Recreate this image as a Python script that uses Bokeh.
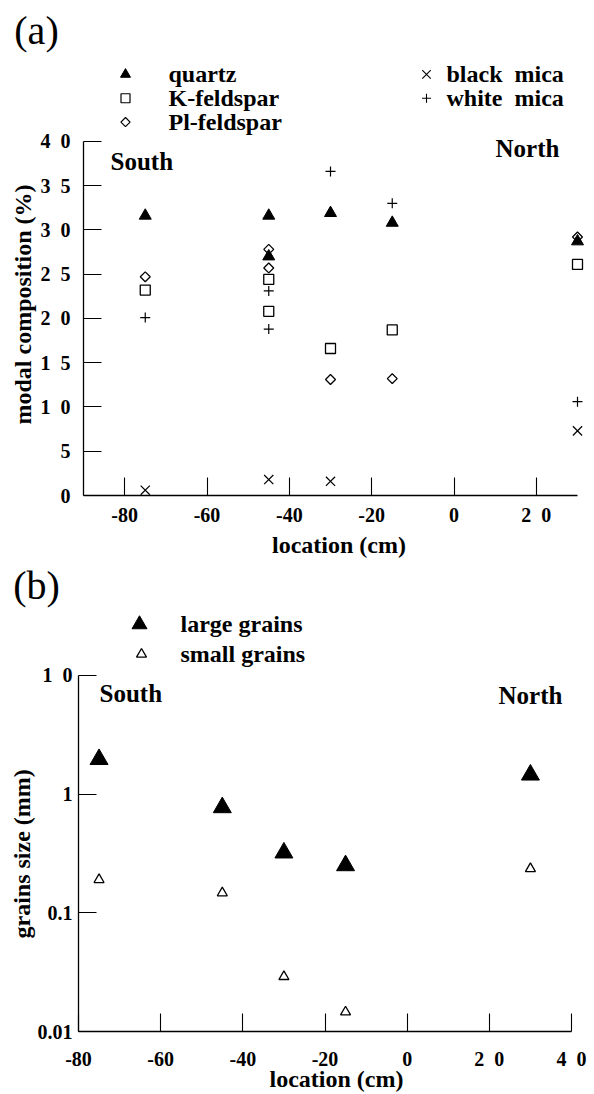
import numpy as np
from bokeh.plotting import figure
from bokeh.models import Range1d, FixedTicker, Label, Title
from bokeh.layouts import column
from bokeh.embed import file_html
from bokeh.resources import INLINE

# ---------------- data: panel (a) modal composition (%) ----------------
loc_quartz = [-75, -45, -45, -30, -15, 30]
quartz = [31.6, 31.6, 27.0, 31.9, 30.8, 28.7]
loc_kfeld = [-75, -45, -45, -30, -15, 30]
kfeld = [23.2, 24.4, 20.8, 16.6, 18.7, 26.1]
loc_plfeld = [-75, -45, -45, -30, -15, 30]
plfeld = [24.7, 27.8, 25.7, 13.1, 13.2, 29.2]
loc_bmica = [-75, -45, -30, 30]
bmica = [0.6, 1.8, 1.6, 7.3]
loc_wmica = [-75, -45, -45, -30, -15, 30]
wmica = [20.1, 23.1, 18.8, 36.6, 33.0, 10.6]

# ---------------- data: panel (b) grain size (mm) ----------------
loc_grains = [-75, -45, -30, -15, 30]
large_grains = [1.96, 0.77, 0.32, 0.25, 1.45]
small_grains = [0.19, 0.147, 0.029, 0.0146, 0.235]

# ---------------- ticks ----------------
a_xticks = [-80, -60, -40, -20, 0, 20]
a_xlabels = ["-80", "-60", "-40", "-20", "0", "2\u20020"]
a_yticks = [0, 5, 10, 15, 20, 25, 30, 35, 40]
a_ylabels = ["0", "5", "1\u20020", "1\u20025", "2\u20020", "2\u20025", "3\u20020", "3\u20025", "4\u20020"]
b_xticks = [-80, -60, -40, -20, 0, 20, 40]
b_xlabels = ["-80", "-60", "-40", "-20", "0", "2\u20020", "4\u20020"]
b_yticks = [0.01, 0.1, 1, 10]
b_ylabels = ["0.01", "0.1", "1", "1\u20020"]

FONT = "Liberation Serif"
W = 594

# page layout (px from top of page)
HDR_A = 58            # header with "(a)"
PA_TOP, PA_BOT = 58, 560
HDR_B_TOP, HDR_B_BOT = 560, 608
PB_TOP, PB_BOT = 608, 1094

# ================= panel (a) =================
A_L, A_FB = 83, 498                     # frame left, frame bottom (page px)
A_PXX = 494 / 120.0                     # px per cm
A_PXU = 8.915                           # px per % unit
A_XEND = -90 + (W - A_L) / A_PXX
A_YTOP = (A_FB - PA_TOP) / A_PXU


def ax(px):
    return -90 + (px - A_L) / A_PXX


def ay(py):
    return (A_FB - py) / A_PXU


pa = figure(width=W, height=PA_BOT - PA_TOP, output_backend="svg",
            toolbar_location=None, title=None, frame_align=False,
            x_range=Range1d(-90, A_XEND), y_range=Range1d(0, A_YTOP),
            min_border_left=A_L, min_border_right=0,
            min_border_top=0, min_border_bottom=PA_BOT - A_FB)

# ================= panel (b) =================
B_L, B_FB = 78, 1033
B_PXX = 493 / 120.0
B_DEC = 119.3                           # px per decade
B_XEND = -80 + (W - B_L) / B_PXX
B_YTOP = 10 ** (-2 + (B_FB - PB_TOP) / B_DEC)


def bx(px):
    return -80 + (px - B_L) / B_PXX


def by(py):
    return 10 ** (-2 + (B_FB - py) / B_DEC)


pb = figure(width=W, height=PB_BOT - PB_TOP, output_backend="svg",
            toolbar_location=None, title=None, y_axis_type="log",
            frame_align=False,
            x_range=Range1d(-80, B_XEND), y_range=Range1d(0.01, B_YTOP),
            min_border_left=B_L, min_border_right=0,
            min_border_top=0, min_border_bottom=PB_BOT - B_FB)


def style_axes(p, xticks, xlabels, xbounds, yticks, ylabels, ybounds, xstand, ystand):
    p.grid.visible = False
    p.outline_line_color = None
    p.xaxis.ticker = FixedTicker(ticks=xticks)
    p.xaxis.major_label_overrides = dict(zip(xticks, xlabels))
    p.xaxis.bounds = xbounds
    p.yaxis.ticker = FixedTicker(ticks=yticks)
    p.yaxis.major_label_overrides = dict(zip(yticks, ylabels))
    p.yaxis.bounds = ybounds
    for a in (p.xaxis, p.yaxis):
        a.major_tick_in = 18
        a.major_tick_out = 0
        a.minor_tick_line_color = None
        a.axis_line_width = 1.3
        a.axis_line_color = "black"
        a.major_tick_line_color = "black"
        a.major_tick_line_width = 1.1
        a.major_label_text_font = FONT
        a.major_label_text_font_style = "bold"
        a.major_label_text_font_size = "20px"
        a.major_label_text_color = "black"
    p.xaxis.major_label_standoff = xstand
    p.yaxis.major_label_standoff = ystand
    p.xaxis.axis_label = "location (cm)"
    p.xaxis.axis_label_text_font = FONT
    p.xaxis.axis_label_text_font_style = "bold"
    p.xaxis.axis_label_text_font_size = "24px"
    p.xaxis.axis_label_text_color = "black"


style_axes(pa, a_xticks, a_xlabels, (-90, 30), a_yticks, a_ylabels, (0, 40), 8, 13)
style_axes(pb, b_xticks, b_xlabels, (-80, 40), b_yticks, b_ylabels, (0.01, 10), 16, 6)
pa.xaxis.axis_label_standoff = 3
pb.xaxis.axis_label_standoff = -7


def side_title(p, text, offset, standoff):
    # align="left" on the left side starts the text 'offset' px above the frame bottom
    p.add_layout(Title(text=text, align="left", offset=offset,
                       standoff=standoff, text_font=FONT,
                       text_font_style="bold", text_font_size="24px",
                       text_color="black"), "left")


side_title(pa, "modal composition (%)", A_FB - 427, 4)
side_title(pb, "grains size (mm)", B_FB - 940, 0)


def label(p, x, y, text, size, align="left", bold=True):
    p.add_layout(Label(x=x, y=y, text=text, text_font=FONT,
                       text_font_style="bold" if bold else "normal",
                       text_font_size=f"{size}px", text_align=align,
                       text_baseline="middle", text_color="black"))


# ---------- panel (a) data ----------
pa.scatter(loc_quartz, quartz, marker="triangle", size=12,
           fill_color="black", line_color="black")
pa.scatter(loc_kfeld, kfeld, marker="square", size=10,
           fill_color=None, line_color="black", line_width=1.3)
pa.scatter(loc_plfeld, plfeld, marker="square", angle=np.pi / 4, size=7,
           fill_color=None, line_color="black", line_width=1.3)
pa.scatter(loc_bmica, bmica, marker="x", size=13,
           line_color="black", line_width=1.2)
pa.scatter(loc_wmica, wmica, marker="cross", size=10,
           line_color="black", line_width=1.2)

# ---------- panel (a) legend ----------
pa.scatter([ax(125)], [ay(74)], marker="triangle", size=10,
           fill_color="black", line_color="black")
pa.scatter([ax(125)], [ay(98)], marker="square", size=9,
           fill_color=None, line_color="black", line_width=1.2)
pa.scatter([ax(125)], [ay(122)], marker="square", angle=np.pi / 4, size=6.5,
           fill_color=None, line_color="black", line_width=1.2)
pa.scatter([ax(426)], [ay(74)], marker="x", size=12,
           line_color="black", line_width=1.1)
pa.scatter([ax(426)], [ay(98)], marker="cross", size=9,
           line_color="black", line_width=1.1)
label(pa, ax(168), ay(74), "quartz", 24)
label(pa, ax(168), ay(98), "K-feldspar", 24)
label(pa, ax(168), ay(122), "Pl-feldspar", 24)
label(pa, ax(446), ay(74), "black\u2002mica", 24)
label(pa, ax(446), ay(98), "white\u2002mica", 24)

label(pa, ax(110), ay(162), "South", 25)
label(pa, ax(527), ay(149), "North", 25, align="center")

# ---------- panel (b) data ----------
pb.scatter(loc_grains, large_grains, marker="triangle", size=18,
           fill_color="black", line_color="black")
pb.scatter(loc_grains, small_grains, marker="triangle", size=10,
           fill_color=None, line_color="black", line_width=1.3)

# ---------- panel (b) legend ----------
pb.scatter([bx(139)], [by(624)], marker="triangle", size=15,
           fill_color="black", line_color="black")
pb.scatter([bx(141)], [by(654)], marker="triangle", size=10,
           fill_color=None, line_color="black", line_width=1.3)
label(pb, bx(180), by(624), "large grains", 24)
label(pb, bx(180), by(654), "small grains", 24)

label(pb, bx(99), by(693), "South", 25)
label(pb, bx(530), by(695), "North", 25, align="center")


# ---------- panel headers "(a)" / "(b)" ----------
def header(h, text, cy):
    p = figure(width=W, height=h, output_backend="svg", toolbar_location=None,
               title=None, frame_align=False,
               x_range=Range1d(0, W), y_range=Range1d(h, 0),
               x_axis_location=None, y_axis_location=None,
               min_border_left=0, min_border_right=0,
               min_border_top=0, min_border_bottom=0)
    p.grid.visible = False
    p.outline_line_color = None
    label(p, 36, cy, text, 40, align="center", bold=False)
    return p


ha = header(HDR_A, "(a)", 30)
hb = header(HDR_B_BOT - HDR_B_TOP, "(b)", 585 - HDR_B_TOP)

layout = column(ha, pa, hb, pb, spacing=0)
open("out.html", "w").write(file_html(layout, INLINE))
